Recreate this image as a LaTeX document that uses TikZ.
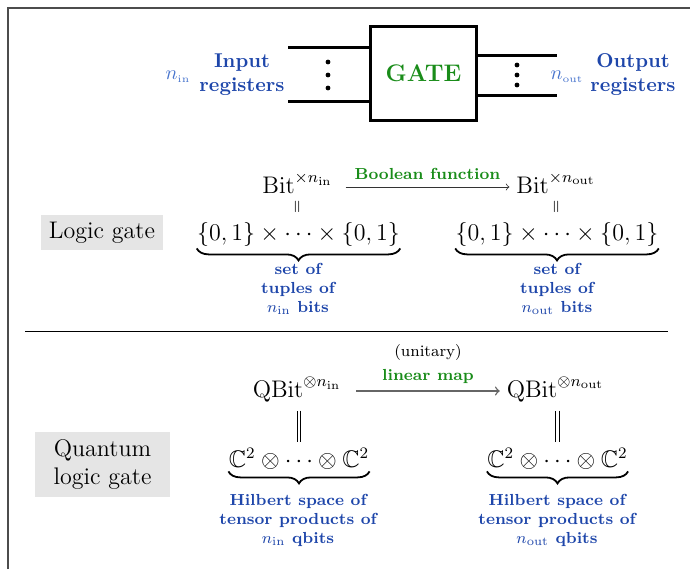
\documentclass[tikz,border=0pt]{standalone}
\usepackage{amsmath,amssymb}
\usetikzlibrary{decorations.pathreplacing}

\definecolor{regblue}{RGB}{30,70,170}
\definecolor{nblue}{RGB}{70,115,205}
\definecolor{fngreen}{RGB}{25,140,25}

\tikzset{
  wire/.style={line width=1.5pt},
  lbl/.style={text=regblue, font=\bfseries, align=center},
  note/.style={text=regblue, font=\footnotesize\bfseries, align=center},
  fnlabel/.style={text=fngreen, font=\footnotesize\bfseries},
  kind/.style={fill=gray!20, font=\large, align=center},
  space/.style={font=\large, anchor=base},
  setnode/.style={font=\large, anchor=base, inner xsep=0pt, inner ysep=1pt},
  setbrace/.style={decorate, decoration={brace, mirror, amplitude=6pt}, line width=0.9pt},
  eqline/.style={double, double distance=1.3pt, line width=0.45pt},
}

\begin{document}
\begin{tikzpicture}[x=0.5pt,y=0.5pt]
    \useasboundingbox (0,0) rectangle (690,-569);
    % frame
    \draw[black!70, line width=0.8pt] (8,-569) -- (8,-8) -- (690,-8);

    % the gate with its registers
    \node[draw, line width=1.5pt, minimum width=53pt, minimum height=47pt,
          text=fngreen, font=\large\bfseries] (gate) at (423.5,-73.5) {GATE};
    \coordinate (inA) at (288,-47);
    \coordinate (inB) at (288,-101);
    \coordinate (outA) at (557,-55);
    \coordinate (outB) at (557,-95);
    \draw[wire] (inA) -- (inA -| gate.west);
    \draw[wire] (inB) -- (inB -| gate.west);
    \draw[wire] (outA -| gate.east) -- (outA);
    \draw[wire] (outB -| gate.east) -- (outB);
    \foreach \y in {-62,-75,-88}
        \fill (328,\y) circle (1.2pt);
    \foreach \y in {-65,-75,-85}
        \fill (517,\y) circle (1.2pt);
    \node[lbl] (inlbl) at (242,-75) {Input\\registers};
    \node[text=nblue] (nin) at (178,-77) {$n_{\scriptscriptstyle\mathrm{in}}$};
    \node[lbl] (outlbl) at (633,-75) {Output\\registers};
    \node[text=nblue] (nout) at (567,-77) {$n_{\scriptscriptstyle\mathrm{out}}$};

    % classical gate
    \node[kind, minimum width=61pt, minimum height=17.5pt] (logic) at (102,-232.5) {Logic gate};
    \node[space] (bitin) at (297.5,-193) {$\mathrm{Bit}^{\times n_{\mathrm{in}}}$};
    \node[space] (bitout) at (556,-193) {$\mathrm{Bit}^{\times n_{\mathrm{out}}}$};
    \draw[->, black!80] ([xshift=3pt,yshift=3pt]bitin.base east) --
        node[fnlabel, above] {Boolean function} ([yshift=3pt]bitout.base west);
    \node[rotate=90, font=\footnotesize] (eqin) at (298,-207) {$=$};
    \node[rotate=90, font=\footnotesize] (eqout) at (557,-207) {$=$};
    \node[setnode] (setin) at (298.5,-240) {$\{0,1\}\times\cdots\times\{0,1\}$};
    \node[setnode] (setout) at (557,-240) {$\{0,1\}\times\cdots\times\{0,1\}$};
    \draw[setbrace] (setin.south west) -- (setin.south east);
    \draw[setbrace] (setout.south west) -- (setout.south east);
    \node[note] (setinlbl) at (298,-289) {set of\\tuples of\\$n_{\mathrm{in}}$ bits};
    \node[note] (setoutlbl) at (557,-289) {set of\\tuples of\\$n_{\mathrm{out}}$ bits};

    \coordinate (sepL) at (25,-331);
    \coordinate (sepR) at (668,-331);
    \draw (sepL) -- (sepR);

    % quantum gate
    \node[kind, minimum width=67.5pt, minimum height=32.5pt] (quantum) at (102.5,-464.5) {Quantum\\logic gate};
    \node[space] (qin) at (297,-397) {$\mathrm{QBit}^{\otimes n_{\mathrm{in}}}$};
    \node[space] (qout) at (555.5,-397) {$\mathrm{QBit}^{\otimes n_{\mathrm{out}}}$};
    \draw[->, black!60, line width=0.7pt] ([xshift=4pt,yshift=3pt]qin.base east) --
        node[above, align=center, text=black] {{\footnotesize (unitary)}\\{\footnotesize\bfseries\color{fngreen}linear map}}
        ([yshift=3pt]qout.base west);
    \node[setnode] (cin) at (299,-467) {$\mathbb{C}^2\otimes\cdots\otimes\mathbb{C}^2$};
    \node[setnode] (cout) at (557.5,-467) {$\mathbb{C}^2\otimes\cdots\otimes\mathbb{C}^2$};
    \draw[eqline] ([yshift=-1pt]cin.north |- qin.south) -- ([yshift=2pt]cin.north);
    \draw[eqline] ([yshift=-1pt]cout.north |- qout.south) -- ([yshift=2pt]cout.north);
    \draw[setbrace] (cin.south west) -- (cin.south east);
    \draw[setbrace] (cout.south west) -- (cout.south east);
    \node[note] (cinlbl) at (298,-520) {Hilbert space of\\tensor products of\\$n_{\mathrm{in}}$ qbits};
    \node[note] (coutlbl) at (557,-520) {Hilbert space of\\tensor products of\\$n_{\mathrm{out}}$ qbits};
\end{tikzpicture}
\end{document}
